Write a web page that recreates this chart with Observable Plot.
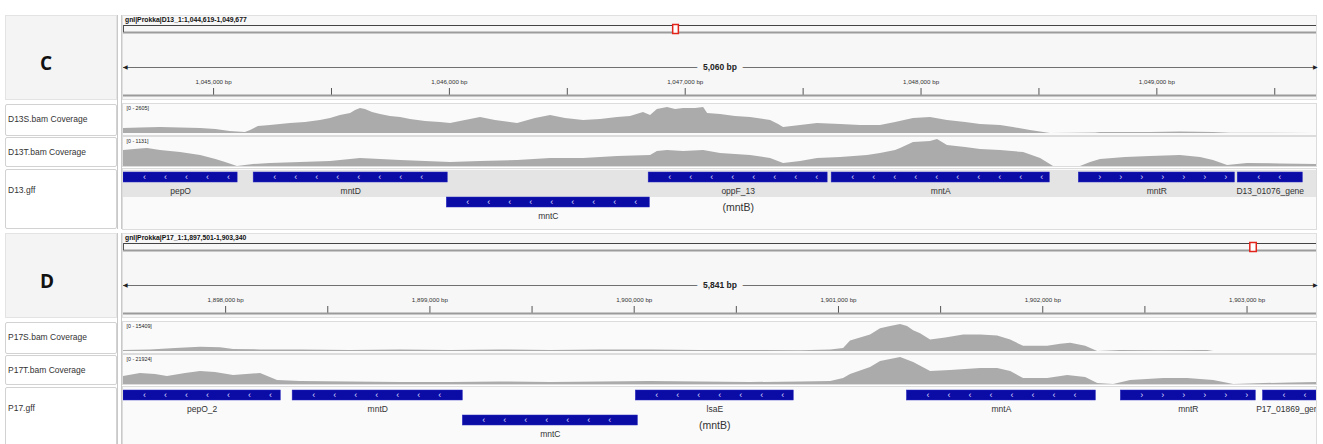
<!DOCTYPE html>
<html>
<head>
<meta charset="utf-8">
<script src="https://cdn.jsdelivr.net/npm/d3@7"></script>
<script src="https://cdn.jsdelivr.net/npm/@observablehq/plot@0.6"></script>
<style>
  html,body{margin:0;padding:0;background:#fff;}
  #root{position:relative;width:1323px;height:444px;overflow:hidden;font-family:"Liberation Sans",Arial,sans-serif;}
  .bx{position:absolute;box-sizing:border-box;}
  .tx{position:absolute;white-space:nowrap;line-height:1;}
  #root svg{position:absolute;left:0;overflow:visible;}
</style>
</head>
<body>
<div id="root"></div>
<script>
// ---------------- DATA ----------------
const panelLetters = ["C", "D"];
const locusTitles = ["gnl|Prokka|D13_1:1,044,619-1,049,677", "gnl|Prokka|P17_1:1,897,501-1,903,340"];
const regionStart = [1044618, 1897500];
const regionEnd = [1049677, 1903340];
const spanLabels = ["5,060 bp", "5,841 bp"];
const chromLength = [2261000, 2006300];

const majorTicksC = [1045000, 1046000, 1047000, 1048000, 1049000];
const minorTicksC = [1045500, 1046500, 1047500, 1048500, 1049500];
const majorTicksD = [1898000, 1899000, 1900000, 1901000, 1902000, 1903000];
const minorTicksD = [1898500, 1899500, 1900500, 1901500, 1902500];

const trackNamesC = ["D13S.bam Coverage", "D13T.bam Coverage", "D13.gff"];
const trackNamesD = ["P17S.bam Coverage", "P17T.bam Coverage", "P17.gff"];
const dataRangeC = [2605, 1131];
const dataRangeD = [15409, 21924];

// coverage: [position bp, depth]
const covD13S = [
  [1044618,483],[1044690,531],[1044775,579],[1044860,531],[1044945,483],[1045010,386],[1045070,193],
  [1045135,97],[1045157,290],[1045190,676],[1045241,772],[1045326,965],[1045390,1062],[1045453,1255],
  [1045496,1448],[1045538,1737],[1045581,1930],[1045602,2220],[1045623,2413],[1045644,2316],[1045674,2027],
  [1045708,1834],[1045750,1641],[1045793,1544],[1045835,1351],[1045899,1158],[1045962,1062],[1046005,965],
  [1046068,1255],[1046132,1544],[1046195,1255],[1046289,965],[1046365,1448],[1046429,1737],[1046492,1448],
  [1046569,1255],[1046641,1351],[1046713,1544],[1046768,1641],[1046823,2027],[1046853,1737],[1046882,2316],
  [1046925,2509],[1046959,2316],[1046993,2413],[1047044,2413],[1047078,2509],[1047095,1930],[1047150,1834],
  [1047213,1641],[1047277,1544],[1047362,1255],[1047396,869],[1047417,579],[1047489,772],[1047561,965],
  [1047659,869],[1047743,772],[1047828,772],[1047892,1062],[1047968,1448],[1048040,1544],[1048112,1255],
  [1048189,1062],[1048252,869],[1048337,772],[1048392,579],[1048464,290],[1048549,0],[1048740,48],
  [1048761,97],[1048973,97],[1049100,145],[1049240,97],[1049312,29],[1049677,0]
];
const covD13T = [
  [1044618,670],[1044690,733],[1044720,754],[1044775,670],[1044860,587],[1044945,461],[1045010,293],
  [1045051,168],[1045101,0],[1045169,84],[1045241,126],[1045369,168],[1045496,210],[1045623,335],
  [1045708,293],[1045793,251],[1045899,210],[1046005,168],[1046132,210],[1046289,251],[1046429,335],
  [1046569,335],[1046713,419],[1046853,461],[1046882,629],[1046925,670],[1046993,629],[1047078,670],
  [1047150,545],[1047277,461],[1047362,335],[1047417,126],[1047489,210],[1047561,335],[1047659,377],
  [1047773,461],[1047828,545],[1047892,670],[1047913,754],[1047968,1006],[1048040,1048],[1048070,1131],
  [1048112,880],[1048189,796],[1048252,712],[1048337,670],[1048435,587],[1048507,335],[1048562,0],
  [1048676,0],[1048719,168],[1048761,293],[1048867,377],[1048973,419],[1049100,461],[1049185,377],
  [1049240,251],[1049300,42],[1049384,126],[1049524,105],[1049677,84]
];
const covP17S = [
  [1897500,593],[1897632,890],[1897755,1779],[1897877,2372],[1897975,2076],[1898039,1186],[1898171,890],
  [1898367,890],[1898611,593],[1898856,890],[1899101,593],[1899346,890],[1899591,593],[1899835,890],
  [1900080,890],[1900325,593],[1900570,593],[1900815,415],[1900962,890],[1901025,1779],[1901059,5930],
  [1901108,7709],[1901157,9488],[1901206,13046],[1901255,14232],[1901304,15409],[1901338,14232],
  [1901368,11860],[1901402,10081],[1901451,6523],[1901525,7709],[1901613,9488],[1901696,9488],
  [1901779,8895],[1901843,6523],[1901906,2965],[1902024,2965],[1902088,4151],[1902137,4744],
  [1902210,2965],[1902269,0],[1902381,593],[1902577,415],[1902807,593],[1902837,0],[1903340,0]
];
const covP17T = [
  [1897500,6496],[1897583,8932],[1897657,8120],[1897715,6496],[1897804,8932],[1897877,10556],[1897950,9744],
  [1898039,7308],[1898171,8932],[1898254,3248],[1898367,2436],[1898611,2030],[1898856,1624],[1899101,1624],
  [1899346,2030],[1899591,1624],[1899835,2030],[1900080,2436],[1900325,2030],[1900570,1624],[1900815,2030],
  [1900962,2436],[1901025,4872],[1901059,8120],[1901157,13804],[1901206,18676],[1901255,20300],
  [1901304,21924],[1901368,17864],[1901451,10556],[1901549,11368],[1901696,12992],[1901779,12992],
  [1901843,10556],[1901906,4872],[1902024,4872],[1902122,7308],[1902210,5684],[1902269,812],[1902347,0],
  [1902430,3248],[1902592,4872],[1902709,4872],[1902837,3248],[1902935,0],[1903082,812],[1903214,1218],
  [1903340,1624]
];

const genesC = [
  {name: "pepO", start: 1044618, end: 1045102, strand: "-", row: 0},
  {name: "mntD", start: 1045170, end: 1045993, strand: "-", row: 0},
  {name: "mntC", start: 1045989, end: 1046850, strand: "-", row: 1},
  {name: "oppF_13", start: 1046845, end: 1047604, strand: "-", row: 0},
  {name: "mntA", start: 1047621, end: 1048546, strand: "-", row: 0},
  {name: "mntR", start: 1048669, end: 1049331, strand: "+", row: 0},
  {name: "D13_01076_gene", start: 1049343, end: 1049619, strand: "-", row: 0}
];
const genesD = [
  {name: "pepO_2", start: 1897500, end: 1898270, strand: "-", row: 0},
  {name: "mntD", start: 1898328, end: 1899161, strand: "-", row: 0},
  {name: "mntC", start: 1899161, end: 1900018, strand: "-", row: 1},
  {name: "lsaE", start: 1900008, end: 1900781, strand: "-", row: 0},
  {name: "mntA", start: 1901335, end: 1902260, strand: "-", row: 0},
  {name: "mntR", start: 1902382, end: 1903043, strand: "+", row: 0},
  {name: "P17_01869_gene", start: 1903078, end: 1903340, strand: "-", row: 0}
];
const notesC = [{gene: "oppF_13", text: "(mntB)"}];
const notesD = [{gene: "lsaE", text: "(mntB)"}];

// ---------------- DRAWING ----------------
const root = document.getElementById("root");
const W = 1323, X0 = 123, X1 = 1316;
const FONT = "'Liberation Sans', Arial, sans-serif";
const fmt = d3.format(",");

function box(l, t, w, h, st) {
  const d = document.createElement("div");
  d.className = "bx";
  Object.assign(d.style, {left: l + "px", top: t + "px", width: w + "px", height: h + "px"}, st || {});
  root.append(d);
  return d;
}
function label(l, t, text, st) {
  const d = document.createElement("div");
  d.className = "tx";
  d.textContent = text;
  Object.assign(d.style, {left: l + "px", top: t + "px"}, st || {});
  root.append(d);
  return d;
}
function place(svg, top) {
  svg.style.top = top + "px";
  root.append(svg);
}
const base = {
  width: W, marginLeft: X0, marginRight: W - X1, marginTop: 0, marginBottom: 0,
  style: {background: "transparent", fontFamily: FONT, overflow: "visible"}
};

function drawPanel(i, off, cfg) {
  const start = regionStart[i], end = regionEnd[i];
  // ---- frames ----
  box(5, off + 15, 112, 85, {background: "#f4f4f4", border: "1px solid #e3e3e3"});
  box(5, off + 104, 112, 32, {background: "#fff", border: "1px solid #d2d2d2", borderRadius: "2px"});
  box(5, off + 137, 112, 30, {background: "#fff", border: "1px solid #d2d2d2", borderRadius: "2px"});
  box(5, off + 169, 112, 60, {background: "#fff", border: "1px solid #d2d2d2", borderRadius: "2px"});
  box(117, off + 15, 5, 214, {borderLeft: "1px solid #c9c9c9", borderRight: "1px solid #c9c9c9"});
  box(122, off + 15, 1195, 85, {background: "#f7f7f7", border: "1px solid #e0e0e0"});
  box(122, off + 103, 1195, 33, {background: "#fafafa", border: "1px solid #dcdcdc"});
  box(122, off + 136, 1195, 31, {background: "#fafafa", border: "1px solid #dcdcdc"});
  box(122, off + 168, 1195, 62, {background: "#fafafa", border: "1px solid #dcdcdc"});

  // ---- texts ----
  label(40, off + 54, panelLetters[i], {fontFamily: "'Open Sans', sans-serif", fontWeight: "700", fontSize: "19px", color: "#111"});
  label(125, off + 16.5, locusTitles[i], {fontSize: "6.8px", fontWeight: "bold", color: "#111"});
  const names = cfg.trackNames;
  label(8, off + 115, names[0], {fontSize: "8.5px", color: "#333"});
  label(8, off + 148, names[1], {fontSize: "8.5px", color: "#333"});
  label(8, off + 186, names[2], {fontSize: "8.5px", color: "#333"});

  // ---- ideogram ----
  place(Plot.plot({
    ...base, height: 13,
    x: {domain: [0, chromLength[i]], axis: null},
    y: {type: "identity", axis: null},
    marks: [
      Plot.ruleY([2], {stroke: "#444"}),
      Plot.ruleY([9], {stroke: "#9c9c9c", strokeWidth: 2}),
      Plot.ruleX([0], {y1: 2, y2: 9, stroke: "#555"}),
      Plot.rect([{s: start, e: end}], {x1: "s", x2: "e", y1: 1.5, y2: 10.5, fill: "#fff", stroke: "#e3241b", strokeWidth: 1.5, insetLeft: -1.5, insetRight: -1.5})
    ]
  }), off + 23);

  // ---- ruler ----
  place(Plot.plot({
    ...base, height: 86,
    x: {domain: [start, end], axis: null},
    y: {type: "identity", axis: null},
    marks: [
      Plot.ruleY([53], {stroke: "#707070"}),
      Plot.text([start], {x: d => d, y: 53, text: ["◀"], textAnchor: "start", fontSize: 6, fill: "#222", dx: -1}),
      Plot.text([end], {x: d => d, y: 53, text: ["▶"], textAnchor: "end", fontSize: 6, fill: "#222", dx: 1}),
      Plot.text([(start + end) / 2], {x: d => d, y: 53, text: [spanLabels[i]], fontWeight: "bold", fontSize: 8.5, fill: "#222", stroke: "#f7f7f7", strokeWidth: 12}),
      Plot.text(cfg.major, {x: d => d, y: 68, text: d => fmt(d) + " bp", fontSize: 6.2, fill: "#333"}),
      Plot.ruleX([...cfg.major, ...cfg.minor], {x: d => d, y1: 74, y2: 81, stroke: "#555"}),
      Plot.ruleY([81], {stroke: "#9a9a9a", strokeWidth: 2})
    ]
  }), off + 14);

  // ---- coverage tracks ----
  [[cfg.cov[0], cfg.ranges[0], off + 104], [cfg.cov[1], cfg.ranges[1], off + 137]].forEach(([data, max, top]) => {
    place(Plot.plot({
      ...base, height: 31,
      x: {domain: [start, end], axis: null},
      y: {domain: [0, max], range: [29, 2], axis: null},
      marks: [
        Plot.areaY(data, {x: d => d[0], y: d => d[1], fill: "#ababab", curve: "linear", clip: "frame"}),
        Plot.text([`[0 - ${max}]`], {frameAnchor: "top-left", dx: 3, dy: 1.5, fontSize: 5.3, fill: "#222"})
      ]
    }), top);
  });

  // ---- gene track ----
  const genes = cfg.genes;
  const bpPerPx = (end - start) / (X1 - X0);
  const chev = [];
  for (const g of genes) {
    const s = Math.max(g.start, start), e = Math.min(g.end, end);
    for (let x = s + 21 * bpPerPx; x < e - 8 * bpPerPx; x += 21 * bpPerPx) chev.push({x, row: g.row, strand: g.strand});
  }
  const mid = g => (Math.max(g.start, start) + Math.min(g.end, end)) / 2;
  const notes = cfg.notes.map(n => ({...n, g: genes.find(g => g.name === n.gene)}));
  place(Plot.plot({
    ...base, height: 58,
    x: {domain: [start, end], axis: null},
    y: {domain: [0, 1], range: [3, 28], axis: null},
    marks: [
      cfg.band ? Plot.rect([0], {x1: start, x2: end, y1: -0.08, y2: 1.0, fill: "#e4e4e4"}) : null,
      Plot.rect(genes, {x1: "start", x2: "end", y1: "row", y2: d => d.row + 0.4, fill: "#0b0ba6", stroke: "#2a2ac0", strokeWidth: 0.5, clip: "frame"}),
      Plot.text(chev, {x: "x", y: d => d.row + 0.2, text: d => d.strand === "-" ? "‹" : "›", fill: "#dcdcff", fontSize: 9}),
      Plot.text(genes, {x: mid, y: d => d.row + 0.76, text: "name", fontSize: 8.5, fill: "#333", clip: "frame"}),
      Plot.text(notes, {x: d => mid(d.g), y: d => d.g.row + 1.4, text: "text", fontSize: 10.5, fill: "#333"})
    ]
  }), off + 169);
}

drawPanel(0, 0, {
  trackNames: trackNamesC, major: majorTicksC, minor: minorTicksC,
  cov: [covD13S, covD13T], ranges: dataRangeC, genes: genesC, notes: notesC, band: true
});
drawPanel(1, 218, {
  trackNames: trackNamesD, major: majorTicksD, minor: minorTicksD,
  cov: [covP17S, covP17T], ranges: dataRangeD, genes: genesD, notes: notesD, band: false
});
</script>
</body>
</html>
